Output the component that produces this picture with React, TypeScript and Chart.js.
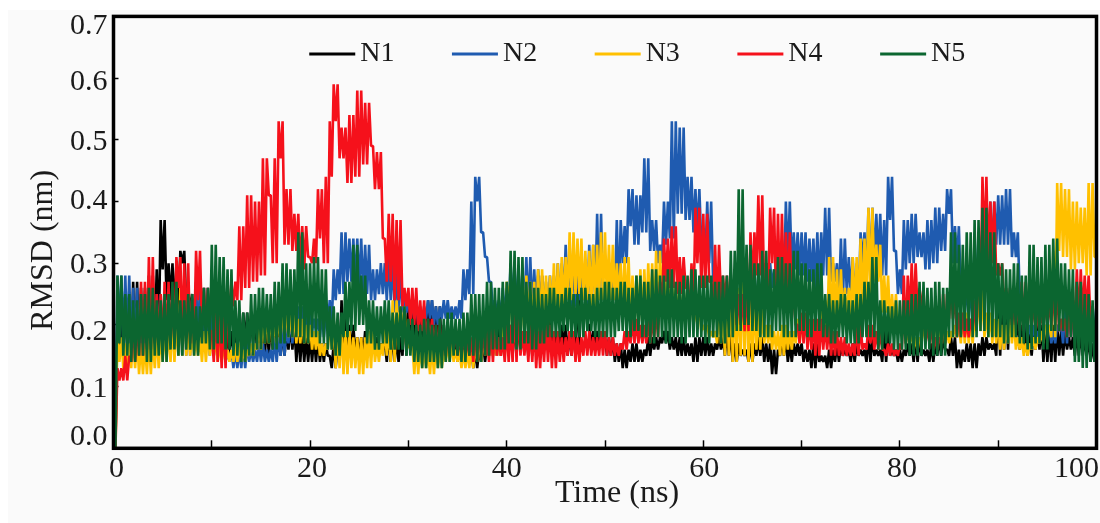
import React, { useEffect, useRef } from "react";
import { Chart, registerables } from "chart.js";

Chart.register(...registerables);

const seriesNames = ["N1", "N2", "N3", "N4", "N5"];
const seriesColors = ["#000000", "#1f5bb0", "#ffc000", "#f5111b", "#0b6630"];
const xTickLabels = [0, 20, 40, 60, 80, 100];
const yTickLabels = ["0.0", "0.1", "0.2", "0.3", "0.4", "0.5", "0.6", "0.7"];
const sampleStepNs = 0.4;

const N1 = [0,
  .15,.23,.16,.24,.15,.27,.17,.26,.16,.28,.18,.29,.37,.24,.30,.22,.30,.32,.23,.25,.18,.24,.17,.22,.16,
  .21,.16,.20,.15,.19,.16,.20,.17,.22,.17,.21,.16,.20,.15,.21,.16,.20,.15,.19,.16,.20,.14,.19,.14,.18,
  .14,.18,.14,.17,.15,.13,.17,.14,.24,.15,.20,.15,.18,.15,.19,.16,.18,.16,.17,.14,.19,.14,.18,.15,.24,
  .17,.24,.16,.22,.18,.24,.16,.23,.15,.20,.15,.19,.14,.18,.14,.17,.13,.16,.14,.17,.15,.19,.15,.20,.16,
  .20,.15,.21,.16,.19,.15,.22,.16,.28,.17,.22,.16,.19,.16,.20,.15,.19,.16,.26,.30,.20,.16,.19,.17,.18,
  .15,.18,.14,.17,.13,.16,.14,.17,.14,.16,.15,.18,.16,.18,.17,.19,.16,.18,.15,.18,.15,.17,.14,.18,.15,
  .18,.15,.17,.16,.18,.15,.19,.14,.17,.15,.16,.14,.17,.15,.18,.14,.17,.12,.16,.15,.18,.14,.17,.15,.17,
  .14,.16,.13,.17,.14,.15,.13,.16,.14,.17,.15,.16,.14,.17,.15,.16,.14,.18,.15,.16,.14,.19,.15,.16,.14,
  .16,.15,.17,.14,.18,.15,.16,.14,.17,.15,.18,.16,.15,.18,.13,.16,.14,.17,.13,.17,.15,.18,.16,.17,.15,
  .25,.16,.24,.18,.21,.16,.20,.15,.19,.16,.20,.14,.19,.14,.20,.15,.19,.16,.18,.15,.19,.15,.18,.14,.17,
];

const N2 = [0,
  .19,.28,.17,.28,.16,.26,.15,.25,.15,.24,.16,.25,.15,.24,.16,.25,.15,.24,.15,.24,.16,.27,.16,.26,.15,
  .22,.15,.21,.14,.16,.13,.16,.13,.17,.14,.16,.14,.17,.14,.16,.14,.18,.15,.20,.17,.22,.18,.23,.19,.22,
  .19,.21,.18,.22,.20,.24,.29,.25,.35,.27,.34,.26,.34,.25,.33,.24,.29,.25,.30,.24,.31,.22,.29,.22,.25,
  .21,.24,.20,.23,.21,.24,.20,.23,.21,.24,.21,.23,.21,.24,.29,.25,.40,.44,.35,.31,.27,.22,.24,.21,.26,
  .22,.30,.21,.29,.22,.31,.22,.29,.23,.27,.22,.28,.23,.30,.24,.33,.23,.31,.24,.30,.23,.33,.24,.38,.24,
  .25,.29,.24,.37,.30,.36,.42,.33,.41,.35,.47,.32,.37,.30,.33,.40,.34,.53,.38,.52,.37,.44,.35,.42,.33,
  .30,.40,.27,.22,.24,.20,.22,.20,.23,.21,.25,.22,.27,.23,.28,.25,.30,.26,.29,.26,.30,.40,.29,.35,.28,
  .35,.27,.34,.26,.35,.28,.39,.27,.30,.24,.34,.25,.31,.23,.30,.35,.27,.39,.30,.38,.28,.37,.44,.32,.25,
  .29,.37,.30,.38,.31,.35,.29,.37,.30,.39,.32,.38,.42,.30,.36,.25,.22,.26,.20,.35,.30,.36,.31,.40,.33,
  .41,.33,.42,.31,.35,.24,.21,.18,.20,.17,.19,.18,.20,.17,.19,.20,.17,.23,.18,.22,.19,.24,.20,.23,.19,
];

const N3 = [0,
  .14,.18,.13,.17,.13,.18,.12,.17,.12,.18,.13,.19,.14,.20,.14,.21,.15,.26,.15,.19,.15,.18,.14,.19,.15,
  .18,.14,.17,.14,.16,.14,.17,.14,.16,.15,.17,.16,.21,.17,.22,.17,.21,.18,.23,.18,.22,.17,.21,.17,.20,
  .16,.19,.15,.17,.16,.21,.13,.20,.12,.19,.13,.18,.12,.18,.13,.19,.14,.17,.15,.20,.14,.24,.18,.23,.16,
  .17,.12,.17,.13,.16,.12,.17,.13,.16,.14,.17,.14,.16,.13,.16,.13,.17,.14,.18,.15,.20,.15,.18,.15,.24,
  .27,.17,.26,.18,.28,.19,.27,.18,.29,.20,.28,.21,.30,.22,.31,.24,.35,.25,.34,.24,.32,.23,.33,.24,.35,
  .24,.33,.24,.30,.22,.31,.21,.28,.20,.29,.21,.30,.20,.32,.22,.29,.21,.27,.20,.26,.22,.25,.20,.23,.19,
  .20,.18,.19,.17,.22,.15,.27,.14,.26,.15,.28,.14,.25,.16,.23,.17,.20,.16,.19,.15,.20,.16,.19,.17,.21,
  .18,.20,.17,.19,.17,.24,.18,.31,.20,.29,.21,.26,.21,.31,.22,.34,.24,.39,.27,.33,.22,.28,.20,.25,.19,
  .20,.17,.19,.16,.18,.17,.21,.18,.22,.17,.20,.17,.19,.18,.20,.17,.22,.17,.21,.19,.26,.18,.22,.17,.21,
  .16,.20,.17,.21,.16,.18,.15,.17,.16,.18,.17,.19,.20,.18,.32,.43,.31,.42,.29,.40,.30,.39,.28,.43,.31,
];

const N4 = [0,
  .11,.13,.11,.15,.14,.21,.15,.27,.16,.31,.17,.25,.16,.27,.17,.26,.31,.18,.30,.17,.24,.32,.20,.26,.19,
  .14,.24,.13,.22,.23,.27,.24,.36,.26,.41,.27,.40,.28,.47,.41,.30,.47,.53,.33,.42,.32,.38,.29,.36,.31,
  .30,.34,.42,.30,.44,.53,.59,.47,.52,.43,.54,.44,.58,.46,.56,.49,.42,.48,.34,.27,.38,.24,.37,.23,.26,
  .20,.26,.19,.24,.17,.21,.16,.20,.15,.19,.16,.20,.15,.19,.15,.18,.14,.20,.15,.19,.14,.20,.15,.18,.14,
  .20,.14,.24,.15,.19,.14,.20,.13,.19,.14,.20,.13,.19,.14,.18,.15,.19,.14,.18,.15,.19,.15,.18,.15,.19,
  .15,.18,.15,.17,.16,.19,.17,.21,.17,.20,.17,.21,.18,.22,.27,.34,.26,.36,.25,.31,.26,.22,.30,.39,.26,
  .38,.27,.22,.33,.24,.28,.22,.27,.20,.25,.19,.26,.35,.28,.41,.25,.30,.39,.24,.38,.25,.35,.24,.20,.17,
  .22,.16,.21,.15,.21,.16,.20,.15,.19,.15,.18,.15,.17,.15,.20,.16,.17,.20,.16,.19,.16,.15,.17,.15,.16,
  .17,.28,.21,.30,.22,.26,.17,.20,.16,.18,.17,.25,.21,.26,.18,.22,.18,.21,.19,.24,.32,.44,.30,.40,.28,
  .30,.22,.26,.20,.23,.19,.27,.20,.24,.19,.22,.20,.24,.20,.26,.19,.21,.18,.24,.20,.29,.21,.28,.20,.17,
];

const N5 = [0,
  .17,.28,.15,.25,.14,.24,.15,.25,.14,.26,.15,.24,.14,.25,.16,.27,.15,.24,.16,.25,.15,.23,.17,.26,.16,
  .33,.17,.31,.16,.29,.15,.24,.14,.22,.15,.25,.16,.26,.17,.25,.16,.27,.17,.30,.18,.29,.18,.35,.17,.30,
  .18,.31,.17,.29,.16,.23,.15,.22,.18,.27,.19,.33,.20,.28,.17,.24,.16,.23,.17,.24,.16,.22,.16,.23,.15,
  .21,.14,.20,.13,.21,.14,.20,.13,.21,.14,.22,.15,.21,.14,.22,.15,.25,.14,.25,.15,.27,.16,.26,.16,.27,
  .17,.32,.16,.31,.17,.27,.16,.26,.17,.25,.18,.26,.18,.25,.19,.26,.18,.25,.18,.26,.19,.25,.18,.26,.18,
  .27,.18,.26,.19,.27,.18,.26,.19,.28,.18,.27,.17,.29,.18,.28,.17,.29,.18,.27,.17,.28,.18,.29,.18,.28,
  .17,.28,.18,.27,.17,.28,.18,.32,.19,.42,.20,.33,.19,.30,.18,.32,.18,.29,.19,.31,.18,.30,.18,.32,.19,
  .30,.18,.29,.19,.30,.18,.25,.17,.24,.18,.25,.17,.24,.17,.25,.18,.27,.18,.31,.16,.24,.17,.23,.16,.24,
  .16,.24,.15,.25,.15,.27,.16,.26,.15,.27,.15,.26,.18,.35,.18,.33,.19,.35,.18,.37,.19,.39,.18,.35,.18,
  .30,.17,.29,.18,.30,.17,.28,.16,.33,.17,.31,.16,.33,.19,.34,.19,.30,.18,.29,.14,.27,.13,.25,.14,.24,
];

const seriesValues = [N1, N2, N3, N4, N5];

// Each read sample is stroked as the swing between it and the next one, as a fast trajectory trace does.
function tracePoints(values: number[]) {
  return values.flatMap((v, k) => {
    const next = values[k + 1] ?? v;
    const t = k * sampleStepNs;
    return [
      { x: t, y: Math.max(v, next) },
      { x: t + sampleStepNs / 2, y: Math.min(v, next) },
    ];
  });
}

// Legend swatch: a line followed by a short gap, so the text sits close to it as in the figure.
function swatch(color: string) {
  const c = document.createElement("canvas");
  c.width = 65;
  c.height = 6;
  const g = c.getContext("2d")!;
  g.fillStyle = color;
  g.fillRect(14, 1.5, 46, 3);
  return c;
}

const adjustLayout = {
  id: "adjustLayout",
  beforeLayout(chart: any) {
    const lg = chart.legend;
    if (lg && !lg.__flat) {
      const fit = lg.fit;
      lg.fit = function () {
        fit.call(this);
        this.height = 0;
      };
      lg.__flat = true;
    }
  },
  afterLayout(chart: any) {
    const { x, y } = chart.scales;
    x.left += 12;
    x.right += 12;
    y.top += 18;
    y.bottom += 18;
    if (chart.legend) {
      chart.legend.left += 89;
      chart.legend.right += 89;
      chart.legend.top = -17.5;
      chart.legend.bottom = 200;
    }
    const yShift: Record<string, number> = { "0.7": 10, "0.6": 4, "0.5": 2, "0.3": 2, "0.2": 7, "0.1": 3, "0.0": -11 };
    y.getLabelItems().forEach((it: any) => {
      it.options.translation[1] += yShift[it.label] || 0;
    });
    const xShift: Record<string, number> = { "0": 3, "20": 2, "60": 1, "80": 2, "100": -20 };
    x.getLabelItems().forEach((it: any) => {
      it.options.translation[0] += xShift[it.label] || 0;
    });
  },
  afterDatasetsDraw(chart: any) {
    const { ctx, chartArea: a } = chart;
    ctx.save();
    ctx.strokeStyle = "#000";
    ctx.lineWidth = 3.5;
    ctx.strokeRect(a.left, a.top, a.right - a.left, a.bottom - a.top);
    ctx.restore();
  },
};

export default function App() {
  const ref = useRef<HTMLCanvasElement>(null);
  useEffect(() => {
    const serif = "'Liberation Serif', serif";
    const chart = new Chart(ref.current!, {
      type: "line",
      data: {
        datasets: seriesNames.map((name, i) => ({
          label: name,
          data: tracePoints(seriesValues[i]),
          borderColor: seriesColors[i],
          backgroundColor: seriesColors[i],
          borderWidth: 2.6,
          borderJoinStyle: "bevel" as const,
          tension: 0,
          clip: false,
          pointRadius: 0,
          order: seriesNames.length - i,
          pointStyle: swatch(seriesColors[i]) as any,
        })),
      },
      plugins: [adjustLayout],
      options: {
        animation: false,
        responsive: false,
        layout: { padding: { top: 16.4, right: 3.5, left: 0, bottom: 0 } },
        plugins: {
          tooltip: { enabled: false },
          legend: {
            position: "top",
            align: "center",
            labels: {
              usePointStyle: true,
              pointStyleWidth: 37,
              padding: 57.5,
              color: "#1a1a1a",
              font: { family: serif, size: 28 },
              sort: (a: any, b: any) => a.datasetIndex - b.datasetIndex,
            },
          },
        },
        scales: {
          x: {
            type: "linear",
            min: 0,
            max: 100,
            afterFit: (s: any) => {
              s.height = 523 - 448.3;
              s.paddingLeft = 0;
              s.paddingRight = 0;
            },
            grid: { drawOnChartArea: false, tickLength: -8, tickColor: "#000", tickWidth: 1.5 },
            border: { display: false },
            ticks: {
              stepSize: 10,
              autoSkip: false,
              maxRotation: 0,
              padding: 11,
              color: "#1a1a1a",
              font: { family: serif, size: 30 },
              callback: (v: any) => (xTickLabels.includes(v) ? String(v) : ""),
            },
            title: { display: true, text: "Time (ns)", color: "#1a1a1a", font: { family: serif, size: 32 }, padding: { top: 0, bottom: 10 } },
          },
          y: {
            min: 0,
            max: 0.7,
            afterFit: (s: any) => {
              s.width = 113.5;
              s.paddingTop = 0;
              s.paddingBottom = 0;
            },
            grid: { drawOnChartArea: false, tickLength: -5, tickColor: "#000", tickWidth: 1.5 },
            border: { display: false },
            ticks: {
              stepSize: 0.1,
              padding: 11,
              color: "#1a1a1a",
              font: { family: serif, size: 30 },
              callback: (v: any) => {
                const t = Number(v).toFixed(1);
                return yTickLabels.includes(t) ? t : "";
              },
            },
            title: { display: true, text: "RMSD (nm)", color: "#1a1a1a", font: { family: serif, size: 32 }, padding: { top: 24, bottom: 0 } },
          },
        },
      },
    });
    return () => chart.destroy();
  }, []);
  return (
    <div style={{ position: "fixed", left: 0, top: 0, width: 1100, height: 523, background: "#fff" }}>
      <div style={{ position: "absolute", left: 8, top: 10, right: 0, bottom: 0, background: "#fafafa" }} />
      <canvas
        ref={ref}
        width={1100}
        height={523}
        style={{ position: "absolute", left: 0, top: 0, width: 1100, height: 523, filter: "blur(0.5px)" }}
      />
    </div>
  );
}
